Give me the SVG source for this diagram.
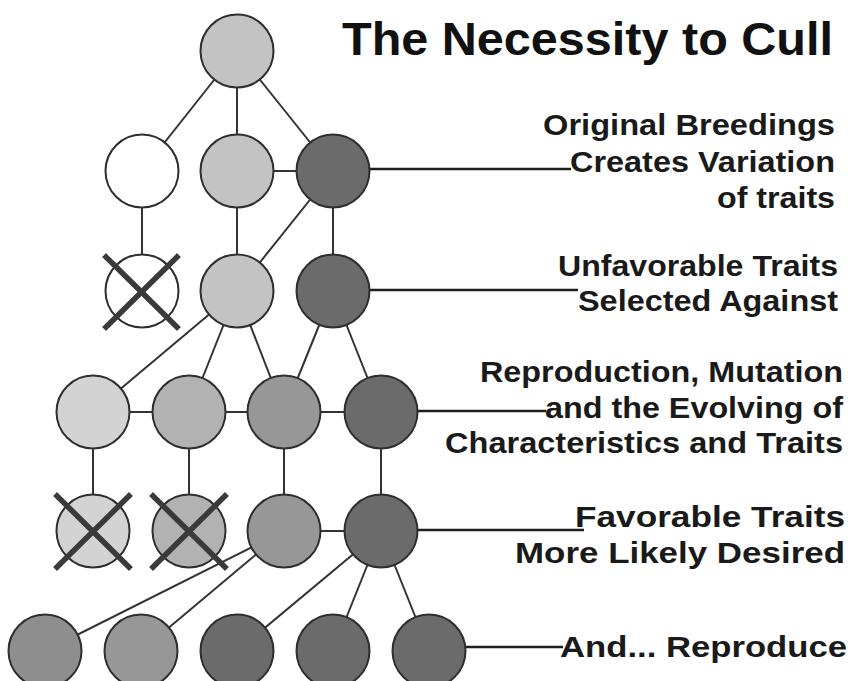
<svg xmlns="http://www.w3.org/2000/svg" width="851" height="681" viewBox="0 0 851 681">
  <style>
    .bg { fill: #ffffff; }
    .node { stroke: #2e2e2e; stroke-width: 2; }
    .c0 { fill: #ffffff; }
    .c1 { fill: #d3d3d3; }
    .c2 { fill: #c3c3c3; }
    .c3 { fill: #b2b2b2; }
    .c4 { fill: #979797; }
    .c5 { fill: #8e8e8e; }
    .c6 { fill: #6b6b6b; }
    .link { stroke: #333333; stroke-width: 2; fill: none; }
    .lead { stroke: #1e1e1e; stroke-width: 2.5; fill: none; }
    .cross { stroke: #3a3a3a; stroke-width: 5.5; stroke-linecap: square; }
    .title { font-family: "Liberation Sans", Arial, sans-serif; font-weight: bold; font-size: 46px; fill: #111111; }
    .label { font-family: "Liberation Sans", Arial, sans-serif; font-weight: bold; font-size: 29px; fill: #1a1a1a; }
  </style>

  <rect class="bg" x="0" y="0" width="851" height="681"/>

  <!-- connectors (drawn first so the filled circles cover their ends) -->
  <g id="connectors">
    <!-- generation 0 to 1 -->
    <line class="link" x1="237" y1="51" x2="142" y2="171"/>
    <line class="link" x1="237" y1="51" x2="237" y2="171"/>
    <line class="link" x1="237" y1="51" x2="333" y2="171"/>
    <line class="link" x1="237" y1="171" x2="333" y2="171"/>
    <!-- generation 1 to 2 -->
    <line class="link" x1="142" y1="171" x2="142" y2="291"/>
    <line class="link" x1="237" y1="171" x2="237" y2="291"/>
    <line class="link" x1="333" y1="171" x2="237" y2="291"/>
    <line class="link" x1="333" y1="171" x2="333" y2="291"/>
    <!-- generation 2 to 3 -->
    <line class="link" x1="237" y1="291" x2="93" y2="412"/>
    <line class="link" x1="237" y1="291" x2="189" y2="412"/>
    <line class="link" x1="237" y1="291" x2="284" y2="412"/>
    <line class="link" x1="333" y1="291" x2="284" y2="412"/>
    <line class="link" x1="333" y1="291" x2="381" y2="412"/>
    <line class="link" x1="93" y1="412" x2="381" y2="412"/>
    <!-- generation 3 to 4 -->
    <line class="link" x1="93" y1="412" x2="93" y2="531"/>
    <line class="link" x1="189" y1="412" x2="189" y2="531"/>
    <line class="link" x1="284" y1="412" x2="284" y2="531"/>
    <line class="link" x1="381" y1="412" x2="381" y2="531"/>
    <line class="link" x1="284" y1="531" x2="381" y2="531"/>
    <!-- generation 4 to 5 -->
    <line class="link" x1="284" y1="531" x2="45" y2="651"/>
    <line class="link" x1="284" y1="531" x2="141" y2="651"/>
    <line class="link" x1="381" y1="531" x2="237" y2="651"/>
    <line class="link" x1="381" y1="531" x2="333" y2="651"/>
    <line class="link" x1="381" y1="531" x2="429" y2="651"/>
    <!-- leader lines to the captions -->
    <line class="lead" x1="333" y1="169" x2="571" y2="169"/>
    <line class="lead" x1="333" y1="290" x2="578" y2="290"/>
    <line class="lead" x1="381" y1="411" x2="546" y2="411"/>
    <line class="lead" x1="381" y1="530" x2="584" y2="530"/>
    <line class="lead" x1="429" y1="647" x2="563" y2="647"/>
  </g>

  <!-- generation 0 -->
  <g id="g0-a"><circle class="node c2" cx="237" cy="51" r="36.5"/></g>

  <!-- generation 1 -->
  <g id="g1-a"><circle class="node c0" cx="142" cy="171" r="36.5"/></g>
  <g id="g1-b"><circle class="node c2" cx="237" cy="171" r="36.5"/></g>
  <g id="g1-c"><circle class="node c6" cx="333" cy="171" r="36.5"/></g>

  <!-- generation 2 -->
  <g id="g2-a">
    <circle class="node c0" cx="142" cy="291" r="36.5"/>
    <line class="cross" x1="106" y1="257" x2="177" y2="327"/>
    <line class="cross" x1="177" y1="257" x2="106" y2="327"/>
  </g>
  <g id="g2-b"><circle class="node c2" cx="237" cy="291" r="36.5"/></g>
  <g id="g2-c"><circle class="node c6" cx="333" cy="291" r="36.5"/></g>

  <!-- generation 3 -->
  <g id="g3-a"><circle class="node c1" cx="93" cy="412" r="36.5"/></g>
  <g id="g3-b"><circle class="node c3" cx="189" cy="412" r="36.5"/></g>
  <g id="g3-c"><circle class="node c4" cx="284" cy="412" r="36.5"/></g>
  <g id="g3-d"><circle class="node c6" cx="381" cy="412" r="36.5"/></g>

  <!-- generation 4 -->
  <g id="g4-a">
    <circle class="node c1" cx="93" cy="531" r="36.5"/>
    <line class="cross" x1="57" y1="496" x2="129" y2="567"/>
    <line class="cross" x1="129" y1="496" x2="57" y2="567"/>
  </g>
  <g id="g4-b">
    <circle class="node c3" cx="189" cy="531" r="36.5"/>
    <line class="cross" x1="153" y1="496" x2="225" y2="567"/>
    <line class="cross" x1="225" y1="496" x2="153" y2="567"/>
  </g>
  <g id="g4-c"><circle class="node c4" cx="284" cy="531" r="36.5"/></g>
  <g id="g4-d"><circle class="node c6" cx="381" cy="531" r="36.5"/></g>

  <!-- generation 5 -->
  <g id="g5-a"><circle class="node c5" cx="45" cy="651" r="36.5"/></g>
  <g id="g5-b"><circle class="node c4" cx="141" cy="651" r="36.5"/></g>
  <g id="g5-c"><circle class="node c6" cx="237" cy="651" r="36.5"/></g>
  <g id="g5-d"><circle class="node c6" cx="333" cy="651" r="36.5"/></g>
  <g id="g5-e"><circle class="node c6" cx="429" cy="651" r="36.5"/></g>

  <!-- title -->
  <g id="title">
    <text class="title" x="342" y="55" textLength="491" lengthAdjust="spacingAndGlyphs">The Necessity to Cull</text>
  </g>

  <!-- captions -->
  <g id="caption-1">
    <text class="label" x="543" y="135" textLength="292" lengthAdjust="spacingAndGlyphs">Original Breedings</text>
    <text class="label" x="570" y="172" textLength="265" lengthAdjust="spacingAndGlyphs">Creates Variation</text>
    <text class="label" x="717" y="208" textLength="118" lengthAdjust="spacingAndGlyphs">of traits</text>
  </g>
  <g id="caption-2">
    <text class="label" x="558" y="276" textLength="280" lengthAdjust="spacingAndGlyphs">Unfavorable Traits</text>
    <text class="label" x="578" y="311" textLength="260" lengthAdjust="spacingAndGlyphs">Selected Against</text>
  </g>
  <g id="caption-3">
    <text class="label" x="480" y="382" textLength="363" lengthAdjust="spacingAndGlyphs">Reproduction, Mutation</text>
    <text class="label" x="545" y="418" textLength="298" lengthAdjust="spacingAndGlyphs">and the Evolving of</text>
    <text class="label" x="445" y="453" textLength="398" lengthAdjust="spacingAndGlyphs">Characteristics and Traits</text>
  </g>
  <g id="caption-4">
    <text class="label" x="575" y="527" textLength="270" lengthAdjust="spacingAndGlyphs">Favorable Traits</text>
    <text class="label" x="515" y="563" textLength="330" lengthAdjust="spacingAndGlyphs">More Likely Desired</text>
  </g>
  <g id="caption-5">
    <text class="label" x="560" y="657" textLength="287" lengthAdjust="spacingAndGlyphs">And... Reproduce</text>
  </g>
</svg>
